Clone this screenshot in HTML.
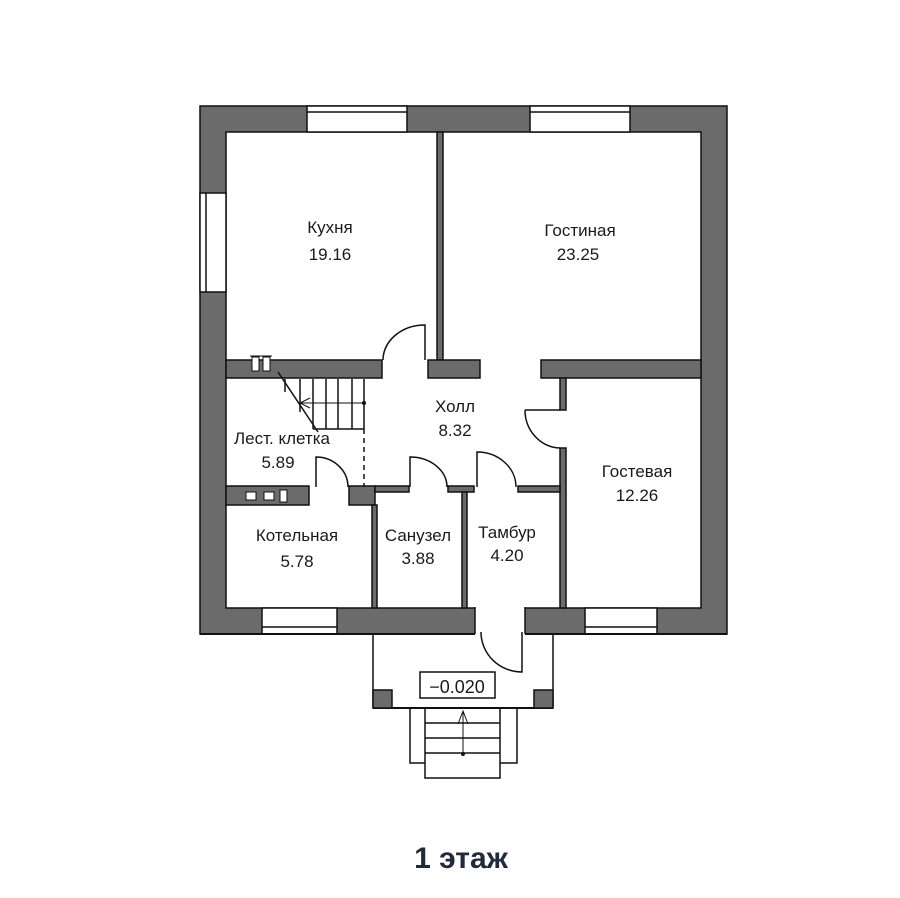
<!DOCTYPE html>
<html><head><meta charset="utf-8"><style>
html,body{margin:0;padding:0;background:#fff;}
svg{display:block}
text{font-family:"Liberation Sans Narrow","Liberation Sans",sans-serif;fill:#1a1a1a;font-size:17px;text-anchor:middle}
</style></head><body>
<svg width="900" height="898" viewBox="0 0 900 898" xmlns="http://www.w3.org/2000/svg">
<g stroke="#111" stroke-width="1.5" fill="#6b6b6b">
<!-- outer wall -->
<path d="M200,106 H727 V634 H200 Z M226,132 V608 H701 V132 Z" fill-rule="evenodd"/>
</g>
<!-- windows -->
<g fill="#fff" stroke="#111" stroke-width="1.5">
<rect x="307" y="106" width="100" height="26"/>
<line x1="307" y1="112" x2="407" y2="112"/>
<rect x="530" y="106" width="100" height="26"/>
<line x1="530" y1="112" x2="630" y2="112"/>
<rect x="200" y="193" width="26" height="99"/>
<line x1="206" y1="193" x2="206" y2="292"/>
<rect x="262" y="608" width="75" height="26"/>
<line x1="262" y1="627" x2="337" y2="627"/>
<rect x="585" y="608" width="72" height="26"/>
<line x1="585" y1="627" x2="657" y2="627"/>
</g>
<!-- entrance opening -->
<rect x="475" y="607" width="50" height="29" fill="#fff"/>
<line x1="475" y1="607" x2="475" y2="634" stroke="#111" stroke-width="1.5"/>
<line x1="525" y1="607" x2="525" y2="634" stroke="#111" stroke-width="1.5"/>
<line x1="200" y1="634" x2="475" y2="634" stroke="#111" stroke-width="2"/>
<line x1="525" y1="634" x2="727" y2="634" stroke="#111" stroke-width="2"/>
<!-- interior walls -->
<g stroke="#111" stroke-width="1.5" fill="#6b6b6b">
<rect x="437" y="132" width="6" height="228"/>
<rect x="226" y="360" width="156" height="18"/>
<rect x="428" y="360" width="52" height="18"/>
<rect x="541" y="360" width="160" height="18"/>
<rect x="560" y="378" width="6" height="32"/>
<rect x="560" y="448" width="6" height="160"/>
<rect x="226" y="486" width="83" height="19"/>
<rect x="349" y="486" width="26" height="19"/>
<rect x="372" y="505" width="5" height="103"/>
<rect x="375" y="486" width="34" height="6"/>
<rect x="448" y="486" width="26" height="6"/>
<rect x="462" y="492" width="5" height="116"/>
<rect x="518" y="486" width="42" height="6"/>
</g>
<!-- doors -->
<g fill="none" stroke="#111" stroke-width="1.5">
<path d="M425,360 V325 A42,35 0 0 0 383,360"/>
<path d="M525,410 H560 M525,410 A36,38 0 0 0 560,448"/>
<path d="M316,487 V457 A32,30 0 0 1 348,487"/>
<path d="M410,487 V457 A37,30 0 0 1 447,487"/>
<path d="M477,487 V452 A39,35 0 0 1 516,487"/>
<path d="M522,632 V672 A41,40 0 0 1 481,632"/>
</g>
<!-- radiators -->
<g fill="#fff" stroke="#111" stroke-width="1">
<rect x="252" y="357" width="7" height="14"/><rect x="263" y="357" width="7" height="14"/>
<line x1="250" y1="356" x2="272" y2="356"/>
<rect x="246" y="492" width="10" height="8"/><rect x="264" y="492" width="10" height="8"/><rect x="280" y="490" width="7" height="12"/>
</g>
<!-- stairs -->
<g stroke="#111" stroke-width="1.5" fill="none">
<line x1="285" y1="379" x2="285" y2="392"/>
<line x1="300" y1="379" x2="300" y2="412"/>
<line x1="313" y1="379" x2="313" y2="429"/>
<line x1="326" y1="379" x2="326" y2="429"/>
<line x1="338" y1="379" x2="338" y2="429"/>
<line x1="352" y1="379" x2="352" y2="429"/>
<line x1="364" y1="379" x2="364" y2="429"/>
<line x1="313" y1="429" x2="364" y2="429"/>
<line x1="278" y1="372" x2="318" y2="432"/>
<line x1="300" y1="403" x2="364" y2="403" stroke-width="1"/>
<path d="M310,398 L300,403 L310,408" stroke-width="1"/>
<line x1="364" y1="429" x2="364" y2="487" stroke-dasharray="5,4"/>
</g>
<circle cx="364" cy="403" r="2" fill="#111"/>
<!-- porch -->
<g stroke="#111" stroke-width="1.5" fill="none">
<line x1="373" y1="634" x2="373" y2="708"/>
<line x1="553" y1="634" x2="553" y2="708"/>
<line x1="373" y1="708" x2="553" y2="708" stroke-width="2"/>
<rect x="373" y="690" width="19" height="18" fill="#6b6b6b"/>
<rect x="534" y="690" width="19" height="18" fill="#6b6b6b"/>
<rect x="420" y="672" width="75" height="26" fill="#fff"/>
<path d="M410,708 V763 H425 M517,708 V763 H500"/>
<rect x="425" y="708" width="75" height="70"/>
<line x1="425" y1="723" x2="500" y2="723"/>
<line x1="425" y1="738" x2="500" y2="738"/>
<line x1="425" y1="753" x2="500" y2="753"/>
<line x1="463" y1="754" x2="463" y2="712" stroke-width="1"/>
<path d="M458,724 L463,711 L468,724" stroke-width="1"/>
</g>
<circle cx="463" cy="754" r="2" fill="#111"/>
<text x="457" y="693" style="font-size:18px">−0.020</text>
<!-- labels -->
<text x="330" y="233">Кухня</text><text x="330" y="260">19.16</text>
<text x="580" y="236">Гостиная</text><text x="578" y="260">23.25</text>
<text x="455" y="412">Холл</text><text x="455" y="436">8.32</text>
<text x="282" y="444">Лест. клетка</text><text x="278" y="468">5.89</text>
<text x="637" y="477">Гостевая</text><text x="637" y="501">12.26</text>
<text x="297" y="541">Котельная</text><text x="297" y="567">5.78</text>
<text x="418" y="541">Санузел</text><text x="418" y="564">3.88</text>
<text x="507" y="538">Тамбур</text><text x="507" y="561">4.20</text>
<text x="461" y="868" style="font-family:'Liberation Sans',sans-serif;font-size:30px;font-weight:bold;fill:#1f2b3c">1 этаж</text>
</svg>
</body></html>
